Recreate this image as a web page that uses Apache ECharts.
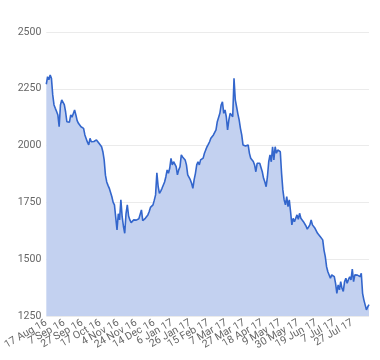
<!DOCTYPE html>
<html>
<head>
<meta charset="utf-8">
<script src="https://cdn.jsdelivr.net/npm/echarts@6/dist/echarts.min.js"></script>
<style>html,body{margin:0;padding:0;background:#fff}#c{width:380px;height:360px}</style>
</head>
<body>
<div id="c"></div>
<script>
const categories = [
"17 Aug 16","18 Aug 16","19 Aug 16","22 Aug 16","23 Aug 16","24 Aug 16","25 Aug 16","26 Aug 16","30 Aug 16","31 Aug 16",
"1 Sep 16","2 Sep 16","5 Sep 16","6 Sep 16","7 Sep 16","8 Sep 16","9 Sep 16","12 Sep 16","13 Sep 16","14 Sep 16","15 Sep 16","16 Sep 16","19 Sep 16","20 Sep 16","21 Sep 16","22 Sep 16","23 Sep 16","26 Sep 16","27 Sep 16","28 Sep 16","29 Sep 16","30 Sep 16",
"3 Oct 16","4 Oct 16","5 Oct 16","6 Oct 16","7 Oct 16","10 Oct 16","11 Oct 16","12 Oct 16","13 Oct 16","14 Oct 16","17 Oct 16","18 Oct 16","19 Oct 16","20 Oct 16","21 Oct 16","24 Oct 16","25 Oct 16","26 Oct 16","27 Oct 16","28 Oct 16","31 Oct 16",
"1 Nov 16","2 Nov 16","3 Nov 16","4 Nov 16","7 Nov 16","8 Nov 16","9 Nov 16","10 Nov 16","11 Nov 16","14 Nov 16","15 Nov 16","16 Nov 16","17 Nov 16","18 Nov 16","21 Nov 16","22 Nov 16","23 Nov 16","24 Nov 16","25 Nov 16","28 Nov 16","29 Nov 16","30 Nov 16",
"1 Dec 16","2 Dec 16","5 Dec 16","6 Dec 16","7 Dec 16","8 Dec 16","9 Dec 16","12 Dec 16","13 Dec 16","14 Dec 16","15 Dec 16","16 Dec 16","19 Dec 16","20 Dec 16","21 Dec 16","22 Dec 16","23 Dec 16","28 Dec 16","29 Dec 16","30 Dec 16",
"3 Jan 17","4 Jan 17","5 Jan 17","6 Jan 17","9 Jan 17","10 Jan 17","11 Jan 17","12 Jan 17","13 Jan 17","16 Jan 17","17 Jan 17","18 Jan 17","19 Jan 17","20 Jan 17","23 Jan 17","24 Jan 17","25 Jan 17","26 Jan 17","27 Jan 17","30 Jan 17","31 Jan 17",
"1 Feb 17","2 Feb 17","3 Feb 17","6 Feb 17","7 Feb 17","8 Feb 17","9 Feb 17","10 Feb 17","13 Feb 17","14 Feb 17","15 Feb 17","16 Feb 17","17 Feb 17","20 Feb 17","21 Feb 17","22 Feb 17","23 Feb 17","24 Feb 17","27 Feb 17","28 Feb 17",
"1 Mar 17","2 Mar 17","3 Mar 17","6 Mar 17","7 Mar 17","8 Mar 17","9 Mar 17","10 Mar 17","13 Mar 17","14 Mar 17","15 Mar 17","16 Mar 17","17 Mar 17","20 Mar 17","21 Mar 17","22 Mar 17","23 Mar 17","24 Mar 17","27 Mar 17","28 Mar 17","29 Mar 17","30 Mar 17","31 Mar 17",
"3 Apr 17","4 Apr 17","5 Apr 17","6 Apr 17","7 Apr 17","10 Apr 17","11 Apr 17","12 Apr 17","13 Apr 17","18 Apr 17","19 Apr 17","20 Apr 17","21 Apr 17","24 Apr 17","25 Apr 17","26 Apr 17","27 Apr 17","28 Apr 17",
"2 May 17","3 May 17","4 May 17","5 May 17","8 May 17","9 May 17","10 May 17","11 May 17","12 May 17","15 May 17","16 May 17","17 May 17","18 May 17","19 May 17","22 May 17","23 May 17","24 May 17","25 May 17","26 May 17","30 May 17","31 May 17",
"1 Jun 17","2 Jun 17","5 Jun 17","6 Jun 17","7 Jun 17","8 Jun 17","9 Jun 17","12 Jun 17","13 Jun 17","14 Jun 17","15 Jun 17","16 Jun 17","19 Jun 17","20 Jun 17","21 Jun 17","22 Jun 17","23 Jun 17","26 Jun 17","27 Jun 17","28 Jun 17","29 Jun 17","30 Jun 17",
"3 Jul 17","4 Jul 17","5 Jul 17","6 Jul 17","7 Jul 17","10 Jul 17","11 Jul 17","12 Jul 17","13 Jul 17","14 Jul 17","17 Jul 17","18 Jul 17","19 Jul 17","20 Jul 17","21 Jul 17","24 Jul 17","25 Jul 17","26 Jul 17","27 Jul 17","28 Jul 17","31 Jul 17",
"1 Aug 17","2 Aug 17","3 Aug 17","4 Aug 17","7 Aug 17","8 Aug 17","9 Aug 17","10 Aug 17","11 Aug 17","14 Aug 17","15 Aug 17"
];

const values = [
2270,2303,2290,2311,2296,2223,2179,2164,2150,2135,
2083,2179,2201,2198,2180,2149,2105,2110,2103,2135,
2125,2120,2157,2135,2110,2098,2105,2083,2080,2076,
2047,2039,2015,2003,2032,2017,2020,2018,2017,2025,
2032,2010,2010,1995,1973,1937,1870,1840,1825,1812,
1805,1775,1750,1739,1731,1629,1700,1673,1761,1687,
1645,1614,1700,1739,1690,1673,1661,1668,1673,1676,
1672,1680,1678,1670,1717,1670,1665,1680,1687,1695,
1709,1728,1724,1739,1760,1783,1880,1820,1790,1800,
1812,1819,1840,1863,1893,1878,1900,1944,1915,1929,
1929,1907,1871,1893,1907,1959,1950,1944,1937,1915,
1871,1863,1850,1834,1812,1850,1878,1915,1929,1915,
1937,1929,1945,1966,1981,1995,2005,2017,2032,2039,
2047,2058,2069,2105,2113,2142,2179,2193,2142,2157,
2127,2069,2113,2142,2135,2127,2296,2201,2171,2140,
2113,2076,2047,2003,1998,1998,1998,2003,1966,1944,
1951,1930,1915,1885,1922,1922,1922,1915,1885,1856,
1840,1819,1863,1929,1959,1929,1995,1937,1995,1966,
1981,1988,1973,1878,1805,1761,1739,1775,1731,1761,
1709,1651,1680,1665,1673,1695,1676,1702,1680,1675,
1665,1658,1646,1632,1640,1651,1673,1651,1643,1636,
1629,1614,1607,1600,1592,1585,1540,1511,1467,1445,
1438,1416,1431,1428,1423,1394,1350,1387,1365,1401,
1372,1358,1401,1416,1394,1410,1423,1409,1456,1401,
1431,1423,1430,1438,1423,1438,1350,1321,1299,1277,
1290,1300
];

const yTicks = [1250, 1500, 1750, 2000, 2250, 2500];
const labelStep = 14;

const chart = echarts.init(document.getElementById('c'), null, {renderer: 'canvas'});
chart.setOption({
  animation: false,
  grid: {left: 37, right: 11, top: 32, bottom: 44},
  xAxis: {
    type: 'category',
    data: categories,
    boundaryGap: false,
    axisLine: {show: false},
    axisTick: {show: false},
    splitLine: {show: false},
    axisLabel: {
      interval: 0,
      showMinLabel: true,
      showMaxLabel: true,
      hideOverlap: false,
      formatter: function (val, idx) { return idx % labelStep === 0 ? val : ''; },
      rotate: 30,
      margin: 6,
      color: '#666',
      fontSize: 10.5,
      fontFamily: 'Roboto'
    }
  },
  yAxis: {
    type: 'value',
    min: yTicks[0],
    max: yTicks[yTicks.length - 1],
    interval: 250,
    axisLine: {show: false},
    axisTick: {show: false},
    splitLine: {lineStyle: {color: '#ebebeb', width: 1}},
    axisLabel: {color: '#666', fontSize: 10.5, fontFamily: 'Roboto', margin: 5, formatter: function (v) { return String(v); }}
  },
  series: [{
    type: 'line',
    data: values,
    showSymbol: false,
    lineStyle: {color: '#3366cc', width: 1.6},
    areaStyle: {color: '#c3d1f0', opacity: 1, origin: 'start'},
    z: 3
  }]
});
</script>
</body>
</html>
